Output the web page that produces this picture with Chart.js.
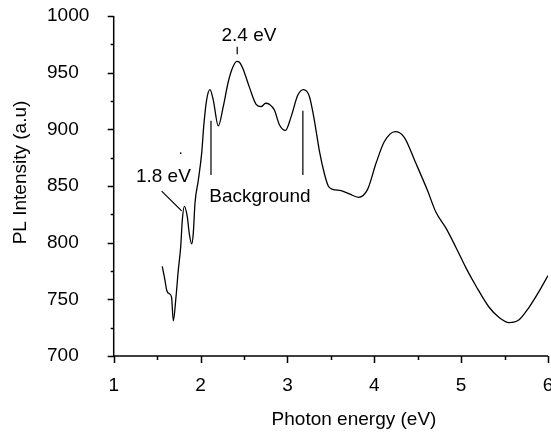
<!DOCTYPE html>
<html>
<head>
<meta charset="utf-8">
<script src="https://cdn.jsdelivr.net/npm/chart.js@4.4.1/dist/chart.umd.min.js"></script>
<style>
  html, body { margin: 0; padding: 0; background: #fff; }
  canvas { display: block; }
</style>
</head>
<body>
<canvas id="plChart" width="551" height="434"></canvas>
<script>
// photon energy (eV) vs PL intensity
const energy = [
  1.559, 1.590, 1.610, 1.640, 1.666, 1.686, 1.717, 1.744, 1.771, 1.790,
  1.813, 1.847, 1.870, 1.898, 1.916, 1.936, 1.974, 2.013, 2.039, 2.070,
  2.108, 2.146, 2.204, 2.261, 2.319, 2.372, 2.418, 2.450, 2.486, 2.563,
  2.640, 2.697, 2.750, 2.793, 2.850, 2.908, 2.977, 3.042, 3.119, 3.184,
  3.253, 3.310, 3.368, 3.425, 3.470, 3.520, 3.617, 3.713, 3.820, 3.923,
  4.020, 4.115, 4.241, 4.345, 4.479, 4.613, 4.709, 4.824, 4.939, 5.054,
  5.169, 5.322, 5.437, 5.552, 5.667, 5.782, 5.897, 6.000
];
const intensity = [
  779, 767, 758, 755, 752, 731, 752, 776, 796, 820,
  832, 823, 808, 799, 808, 835, 855, 879, 905, 926,
  935, 926, 903, 920, 942, 955, 960, 959, 954, 937,
  922, 920, 923, 922, 917, 904, 899, 911, 930, 935,
  929, 908, 881, 861, 850, 847, 846, 843, 840, 847,
  870, 889, 898, 893, 870, 846, 827, 813, 796, 778,
  762, 743, 734, 729.5, 732, 743, 757, 771
];

const xTicks = [1, 2, 3, 4, 5, 6];
const yTicks = [700, 750, 800, 850, 900, 950, 1000];

const xTitle = "Photon energy (eV)";
const yTitle = "PL Intensity (a.u)";

// callouts, placed in data units
const notes = [
  { text: "2.4 eV", x: 2.557, y: 977.8 },
  { text: "1.8 eV", x: 1.572, y: 853.7 },
  { text: "Background", x: 2.684, y: 836.1 }
];
const leaders = [
  [[2.422, 972.9], [2.422, 966.3]],
  [[1.552, 845.5], [1.782, 828.1]],
  [[2.12, 907.5], [2.12, 859.6]],
  [[3.178, 916.3], [3.178, 859.6]]
];

const FONT = "Liberation Sans, Arial, sans-serif";
Chart.defaults.font.family = FONT;
Chart.defaults.color = "#000";

// axis lines, tick marks, titles and callouts
const decorations = {
  id: "decorations",
  afterDraw(chart) {
    const { ctx, chartArea: a, scales: { x, y } } = chart;
    ctx.save();
    ctx.strokeStyle = "#000";
    ctx.lineWidth = 1.5;
    ctx.beginPath();
    ctx.moveTo(a.left, a.top);
    ctx.lineTo(a.left, a.bottom);
    ctx.lineTo(a.right, a.bottom);
    ctx.stroke();

    ctx.beginPath();
    for (let v = 700; v <= 1000; v += 25) {
      const py = Math.round(y.getPixelForValue(v)) + 0.5;
      const len = v % 50 === 0 ? 6 : 3;
      ctx.moveTo(a.left - len, py);
      ctx.lineTo(a.left, py);
    }
    for (let v = 1; v <= 6; v += 0.5) {
      const px = Math.round(x.getPixelForValue(v)) + 0.5;
      const len = v % 1 === 0 ? 7 : 4;
      ctx.moveTo(px, a.bottom);
      ctx.lineTo(px, a.bottom + len);
    }
    ctx.stroke();

    // leader lines
    ctx.lineWidth = 1.2;
    ctx.beginPath();
    leaders.forEach(([p, q]) => {
      ctx.moveTo(x.getPixelForValue(p[0]), y.getPixelForValue(p[1]));
      ctx.lineTo(x.getPixelForValue(q[0]), y.getPixelForValue(q[1]));
    });
    ctx.stroke();
    ctx.fillStyle = "#000";
    ctx.fillRect(x.getPixelForValue(1.771) - 0.75, y.getPixelForValue(879) - 0.75, 1.5, 1.5);

    ctx.font = "19px " + FONT;
    ctx.textAlign = "center";
    ctx.textBaseline = "alphabetic";
    notes.forEach(n => {
      ctx.fillText(n.text, x.getPixelForValue(n.x), y.getPixelForValue(n.y));
    });

    // axis titles
    ctx.fillText(xTitle, 354, 425);
    ctx.translate(26, 172.5);
    ctx.rotate(-Math.PI / 2);
    ctx.fillText(yTitle, 0, 0);
    ctx.restore();
  }
};

new Chart(document.getElementById("plChart"), {
  type: "line",
  data: {
    datasets: [{
      data: energy.map((e, i) => ({ x: e, y: intensity[i] })),
      borderColor: "#000",
      borderWidth: 1.3,
      pointRadius: 0,
      cubicInterpolationMode: "monotone",
      fill: false
    }]
  },
  options: {
    responsive: false,
    animation: false,
    layout: { autoPadding: false, padding: { left: 47, top: 16, right: 3, bottom: 0 } },
    plugins: { legend: { display: false }, tooltip: { enabled: false } },
    scales: {
      x: {
        type: "linear",
        min: 1,
        max: 6,
        afterBuildTicks: s => { s.ticks = xTicks.map(v => ({ value: v })); },
        afterFit: s => {
          s.height = 78;
          s.paddingLeft = 0; s.paddingRight = 0; s.paddingTop = 0; s.paddingBottom = 0;
        },
        grid: { display: false, drawTicks: false },
        border: { display: false },
        ticks: { font: { size: 19 }, color: "#000", padding: 18, autoSkip: false, maxRotation: 0,
                 callback: v => String(v) }
      },
      y: {
        type: "linear",
        min: 700,
        max: 1000,
        afterBuildTicks: s => { s.ticks = yTicks.map(v => ({ value: v })); },
        afterFit: s => {
          s.width = 66.7;
          s.paddingLeft = 0; s.paddingRight = 0; s.paddingTop = 0; s.paddingBottom = 0;
        },
        grid: { display: false, drawTicks: false },
        border: { display: false },
        ticks: { font: { size: 19 }, color: "#000", crossAlign: "far", padding: 0,
                 callback: v => String(v) }
      }
    }
  },
  plugins: [decorations]
});
</script>
</body>
</html>
